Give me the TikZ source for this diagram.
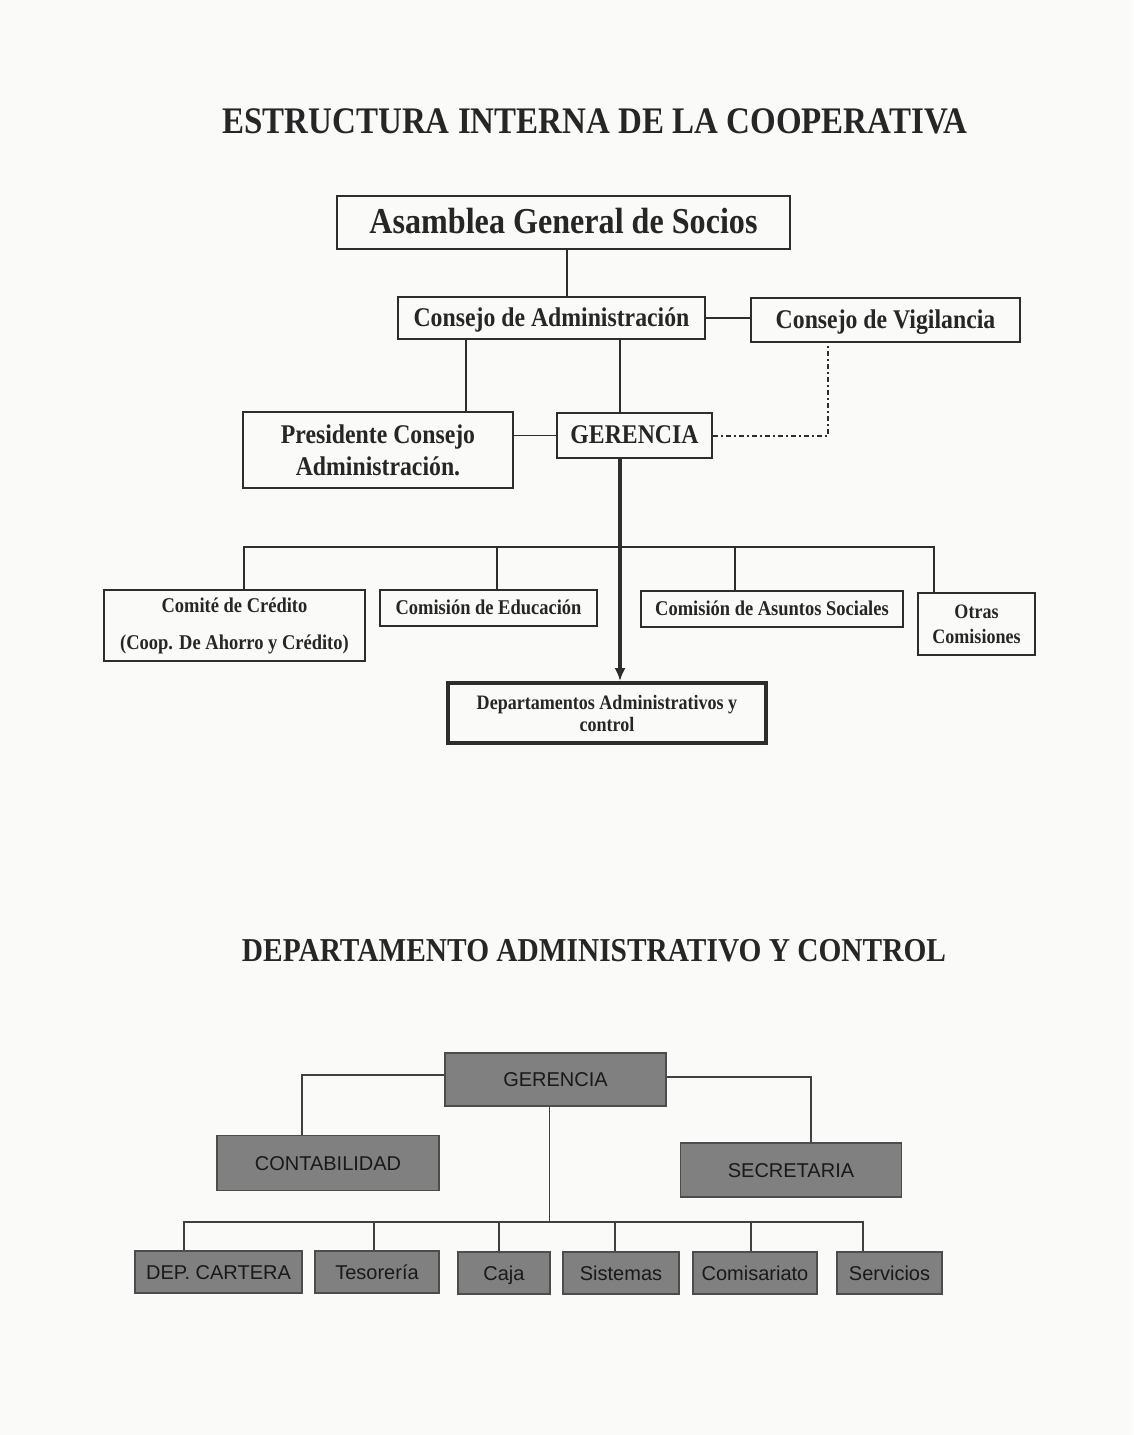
\documentclass[tikz,border=0pt]{standalone}
\usepackage{fontspec}
\setmainfont{Liberation Serif}[FakeStretch=0.88]
\newfontfamily\arialf{Liberation Sans}
\usetikzlibrary{arrows.meta}
\definecolor{ink}{RGB}{38,38,38}
\definecolor{lin}{RGB}{45,45,45}
\definecolor{boxg}{RGB}{128,128,128}
\definecolor{bgc}{RGB}{250,250,248}
\newcommand\myfs[2]{\fontsize{#1}{#2}\selectfont}
\begin{document}
\begin{tikzpicture}[x=1pt,y=-1pt,
  tbox/.style={draw=lin, line width=1.6pt, text=ink, inner sep=0pt, align=center},
  big/.style={text height=24pt, text depth=2pt},
  mid/.style={text height=18pt, text depth=1.6pt},
  sml/.style={text height=14pt, text depth=1.3pt},
  gbox/.style={draw=black!70, line width=1.1pt, fill=boxg, text=black!90, inner sep=0pt, text height=14.5pt, text depth=0pt, font=\arialf\myfs{20}{24}},
  conn/.style={draw=lin, line width=1.6pt},
  bconn/.style={draw=black!75, line width=1.2pt}]
\fill[bgc] (0,0) rectangle (1133,1435);
\useasboundingbox (0,0) rectangle (1133,1435);

% ---------- titles ----------
\node[font=\bfseries\myfs{37.5}{40}, text=ink, anchor=base, inner sep=0pt] (t1) at (595,133) {ESTRUCTURA INTERNA DE LA COOPERATIVA};
\node[font=\bfseries\myfs{33.4}{36}, text=ink, anchor=base, inner sep=0pt] (t2) at (594,961) {DEPARTAMENTO ADMINISTRATIVO Y CONTROL};

% ---------- upper chart ----------
\node[tbox, big, minimum width=453pt, minimum height=53pt, font=\bfseries\myfs{36.5}{40}] (asam) at (563.5,222.5) {Asamblea General de Socios};
\node[tbox, mid, minimum width=307pt, minimum height=42pt, font=\bfseries\myfs{27}{32}] (cadm) at (551.5,318) {Consejo de Administración};
\node[tbox, mid, minimum width=269pt, minimum height=44pt, font=\bfseries\myfs{27}{32}] (cvig) at (885.5,320) {Consejo de Vigilancia};
\node[tbox, minimum width=270pt, minimum height=76pt, font=\bfseries\myfs{27}{32}] (pres) at (378,450) {Presidente Consejo\\Administración.};
\node[tbox, mid, minimum width=155pt, minimum height=45pt, font=\bfseries\myfs{27}{32}] (ger) at (634.5,435.5) {GERENCIA};
\node[tbox, minimum width=261pt, minimum height=71pt, font=\bfseries\myfs{21}{37}] (comite) at (234.5,625.5) {Comité de Crédito\\(Coop. De Ahorro y Crédito)};
\node[tbox, sml, minimum width=217pt, minimum height=36pt, font=\bfseries\myfs{21}{25}] (educ) at (488.5,608) {Comisión de Educación};
\node[tbox, sml, minimum width=262pt, minimum height=36pt, font=\bfseries\myfs{21}{25}] (asun) at (772,609) {Comisión de Asuntos Sociales};
\node[tbox, minimum width=117pt, minimum height=62pt, font=\bfseries\myfs{20.5}{25}] (otras) at (976.5,624) {Otras\\Comisiones};
\node[tbox, line width=3.8pt, minimum width=318pt, minimum height=60pt, font=\bfseries\myfs{20.5}{22}] (dep) at (607,713) {Departamentos Administrativos y\\control};

\coordinate (xa) at (567,0);
\coordinate (xp) at (466,0);
\coordinate (xg) at (620,0);
\coordinate (xv) at (828,0);
\coordinate (busy) at (0,547);
\coordinate (c1) at (244,0);
\coordinate (c2) at (497,0);
\coordinate (c3) at (735,0);
\coordinate (c4) at (934,0);

\draw[conn] (asam.south -| xa) -- (cadm.north -| xa);
\draw[conn] (cadm.east) -- (cadm.east -| cvig.west);
\draw[conn] (cadm.south -| xp) -- (pres.north -| xp);
\draw[conn] (cadm.south -| xg) -- (ger.north -| xg);
\draw[conn] (ger.west) -- (ger.west -| pres.east);
\draw[draw=lin, line width=2pt, dash pattern=on 5pt off 3pt on 2pt off 3pt] (ger.east) -| (cvig.south -| xv);
\draw[conn] (comite.north -| c1) -- (c1 |- busy) -- (c4 |- busy) -- (otras.north -| c4);
\draw[conn] (educ.north -| c2) -- (c2 |- busy);
\draw[conn] (asun.north -| c3) -- (c3 |- busy);
\draw[draw=lin, line width=3.2pt, -{Latex[length=13pt,width=11pt]}] (ger.south -| xg) -- (dep.north -| xg);

% ---------- lower chart ----------
\node[gbox, minimum width=221pt, minimum height=53pt] (bger) at (555.5,1079.5) {GERENCIA};
\node[gbox, minimum width=222pt, minimum height=55pt] (bcont) at (328,1163) {CONTABILIDAD};
\node[gbox, minimum width=221pt, minimum height=54pt] (bsec) at (791,1170) {SECRETARIA};
\node[gbox, minimum width=167pt, minimum height=42pt] (bdep) at (218.5,1272) {DEP. CARTERA};
\node[gbox, minimum width=124pt, minimum height=42pt] (btes) at (377,1272) {Tesorería};
\node[gbox, minimum width=92pt, minimum height=42pt] (bcaja) at (504,1273) {Caja};
\node[gbox, minimum width=116pt, minimum height=42pt] (bsis) at (621,1273) {Sistemas};
\node[gbox, minimum width=124pt, minimum height=42pt] (bcom) at (755,1273) {Comisariato};
\node[gbox, minimum width=105pt, minimum height=42pt] (bser) at (889.5,1273) {Servicios};

\coordinate (ly) at (0,1075);
\coordinate (ry) at (0,1077);
\coordinate (lx) at (302,0);
\coordinate (rx) at (811,0);
\coordinate (mx) at (549.5,0);
\coordinate (bbus) at (0,1222);
\coordinate (d1) at (184,0);
\coordinate (d2) at (374,0);
\coordinate (d3) at (499,0);
\coordinate (d4) at (615,0);
\coordinate (d5) at (751,0);
\coordinate (d6) at (863,0);

\draw[bconn] (bger.west |- ly) -| (bcont.north -| lx);
\draw[bconn] (bger.east |- ry) -| (bsec.north -| rx);
\draw[bconn] (bger.south -| mx) -- (mx |- bbus);
\draw[bconn] (bdep.north -| d1) -- (d1 |- bbus) -- (d6 |- bbus) -- (bser.north -| d6);
\draw[bconn] (btes.north -| d2) -- (d2 |- bbus);
\draw[bconn] (bcaja.north -| d3) -- (d3 |- bbus);
\draw[bconn] (bsis.north -| d4) -- (d4 |- bbus);
\draw[bconn] (bcom.north -| d5) -- (d5 |- bbus);
\end{tikzpicture}
\end{document}
